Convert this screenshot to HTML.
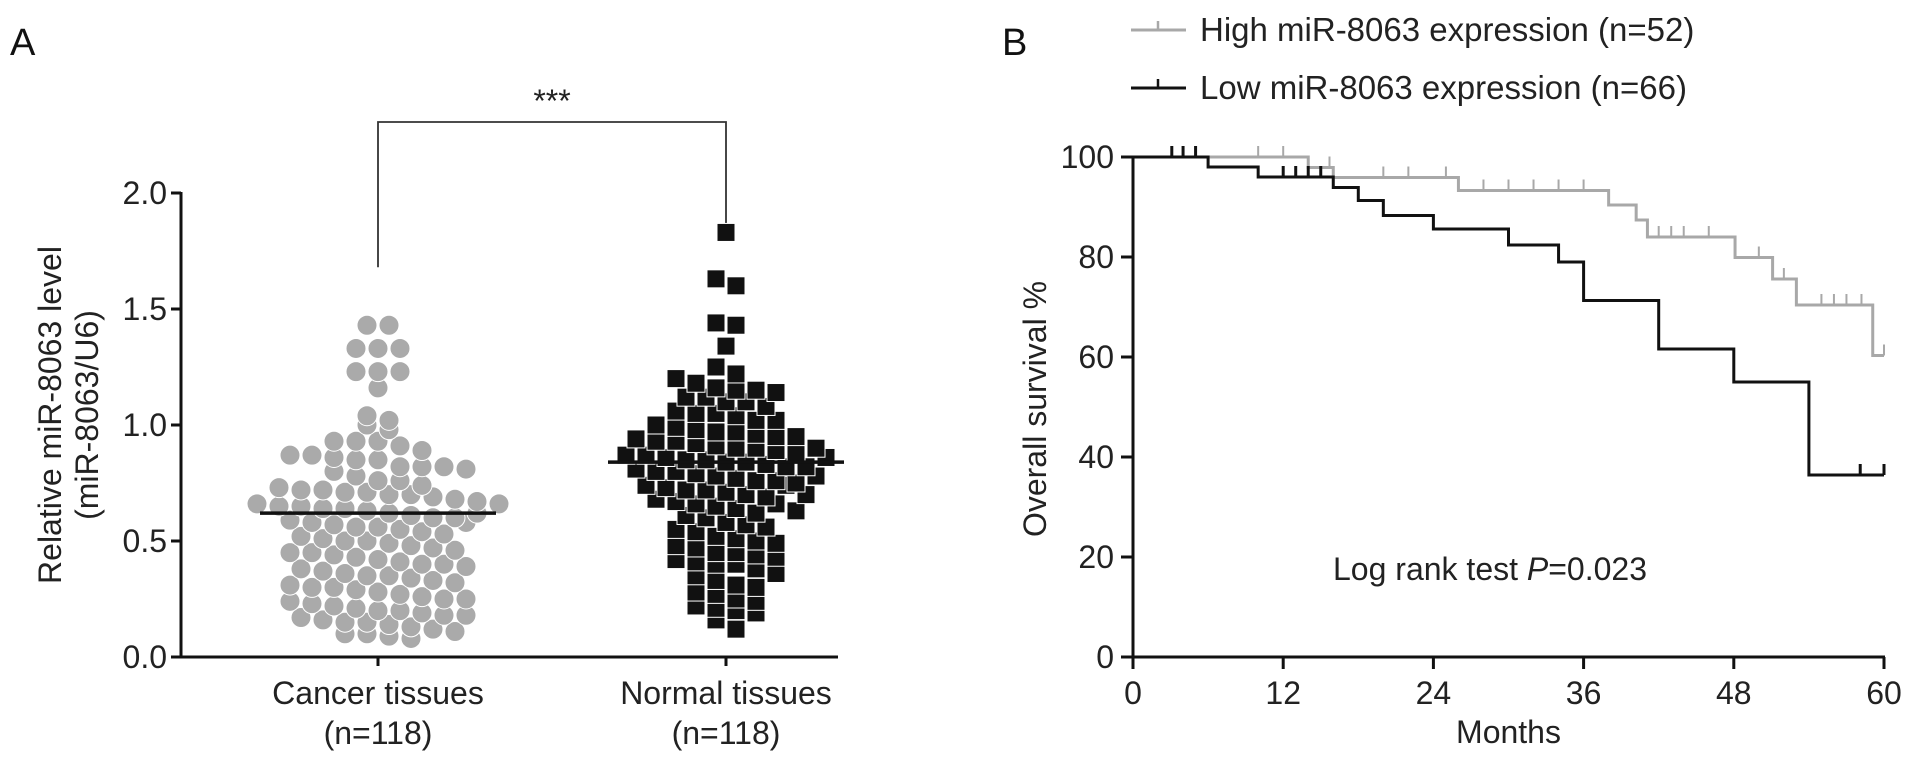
<!DOCTYPE html>
<html><head><meta charset="utf-8"><style>
html,body{margin:0;padding:0;background:#fff;}
svg{display:block;font-family:"Liberation Sans",Arial,sans-serif;}
</style></head><body>
<svg id="fig" width="1913" height="762" viewBox="0 0 1913 762" xmlns="http://www.w3.org/2000/svg">
<rect width="1913" height="762" fill="#fff"/>
<g id="panelA"></g>
<g id="panelB"></g>
</svg>
<script>
// ---- Panel A data ----
const cancerValues = [1.43,1.43,1.33,1.33,1.33,1.23,1.23,1.23,1.16,1.04,1.02,1.0,0.98,0.93,0.93,0.93,0.91,0.89,0.87,0.87,0.86,0.85,0.85,0.82,0.82,0.82,0.81,0.80,0.78,0.76,0.76,0.74,0.73,0.72,0.72,0.71,0.71,0.70,0.70,0.69,0.68,0.67,0.66,0.65,0.65,0.64,0.64,0.63,0.62,0.61,0.60,0.60,0.59,0.58,0.57,0.56,0.56,0.55,0.54,0.53,0.52,0.51,0.50,0.50,0.49,0.48,0.47,0.46,0.45,0.45,0.44,0.43,0.42,0.41,0.40,0.40,0.39,0.38,0.37,0.36,0.35,0.35,0.34,0.33,0.32,0.31,0.30,0.30,0.29,0.28,0.27,0.26,0.25,0.25,0.24,0.23,0.22,0.21,0.20,0.20,0.19,0.18,0.18,0.17,0.16,0.15,0.15,0.14,0.13,0.12,0.11,0.10,0.10,0.09,0.08,0.62,0.58,0.66];
const normalValues = [1.83,1.63,1.60,1.44,1.43,1.34,1.25,1.22,1.20,1.18,1.16,1.15,1.15,1.14,1.12,1.12,1.10,1.10,1.08,1.06,1.05,1.05,1.04,1.02,1.02,1.00,0.99,0.98,0.97,0.97,0.96,0.95,0.94,0.93,0.93,0.92,0.91,0.90,0.90,0.89,0.88,0.87,0.87,0.86,0.85,0.85,0.84,0.84,0.83,0.82,0.82,0.81,0.80,0.80,0.79,0.78,0.77,0.76,0.76,0.75,0.74,0.73,0.72,0.72,0.71,0.70,0.69,0.68,0.67,0.66,0.65,0.64,0.62,0.61,0.60,0.58,0.57,0.56,0.55,0.54,0.52,0.51,0.50,0.49,0.48,0.47,0.45,0.45,0.44,0.43,0.42,0.41,0.40,0.40,0.38,0.36,0.35,0.33,0.31,0.30,0.28,0.27,0.25,0.24,0.22,0.21,0.20,0.19,0.16,0.12,0.95,0.90,0.86,0.78,0.74,0.70,0.66,0.63];
const groupMeans = [0.62, 0.84];
const groupLabels = ["Cancer tissues", "Normal tissues"];
const groupN = ["(n=118)", "(n=118)"];
const yTicksA = [0, 0.5, 1.0, 1.5, 2.0];
const yTickLabelsA = ["0.0","0.5","1.0","1.5","2.0"];

// ---- Panel B data ----
const lowTimes = [0,6,10,16,18,20,24,30,34,36,42,48,54,60];
const lowSurv  = [100,98,96,93.9,91.3,88.3,85.6,82.4,79,71.3,61.6,55,36.4,36.4];
const lowCensor = [3.1,4,5,12,13,14,15,58.1,60];
const highTimes = [0,14,16,26,38,40.2,41.1,48.1,51.1,53,59.1,60];
const highSurv  = [100,97.9,95.9,93.3,90.4,87.4,84,79.9,75.6,70.4,60.3,60.3];
const highCensor = [10,12,15.7,20,22,25,28,30,32,34,36,42,43,44,46,50,52,55,56,57,58.2,60];
const xTicksB = [0,12,24,36,48,60];
const yTicksB = [0,20,40,60,80,100];

const NS = "http://www.w3.org/2000/svg";
function mk(parent, tag, attrs, text){
  const e = document.createElementNS(NS, tag);
  for (const k in attrs) e.setAttribute(k, attrs[k]);
  if (text !== undefined) e.textContent = text;
  parent.appendChild(e);
  return e;
}
const A = document.getElementById('panelA');
const B = document.getElementById('panelB');
const FS = 32;

// ===== Panel A =====
const ax0 = 181, ay0 = 657, ay1 = 193;
const yA = v => ay0 - (v/2.0)*(ay0-ay1);
const catX = [378, 726];

let t = mk(A,'text',{x:10,y:55,'font-size':38,fill:'#111'},'A');



let l = mk(A,'line',{x1:ax0,y1:ay1-1,x2:ax0,y2:ay0+1.5,stroke:'#111','stroke-width':3});


l = mk(A,'line',{x1:ax0-1.5,y1:ay0,x2:838,y2:ay0,stroke:'#111','stroke-width':3});



yTicksA.forEach((v,i)=>{
  const y = yA(v);
  const tk = mk(A,'line',{x1:ax0-10,y1:y,x2:ax0,y2:y,stroke:'#111','stroke-width':3});
  
  
  const tl = mk(A,'text',{x:ax0-14,y:y+11,'font-size':FS,'text-anchor':'end',fill:'#222'},yTickLabelsA[i]);
  
  
});
catX.forEach((x,i)=>{
  const tk = mk(A,'line',{x1:x,y1:ay0,x2:x,y2:ay0+9,stroke:'#111','stroke-width':3});
  
  
  const c1 = mk(A,'text',{x:x,y:704,'font-size':FS,'text-anchor':'middle',fill:'#222'},groupLabels[i]);
  
  
  const c2 = mk(A,'text',{x:x,y:744,'font-size':FS,'text-anchor':'middle',fill:'#222'},groupN[i]);
  
  
});
let yt = mk(A,'text',{transform:'translate(61,415) rotate(-90)','font-size':FS,'text-anchor':'middle',fill:'#222'},'Relative miR-8063 level');


yt = mk(A,'text',{transform:'translate(98,415) rotate(-90)','font-size':FS,'text-anchor':'middle',fill:'#222'},'(miR-8063/U6)');



// significance bracket
const br = mk(A,'path',{d:`M${catX[0]} ${yA(1.68)} V122 H${catX[1]} V${yA(1.86)}`,fill:'none',stroke:'#333','stroke-width':1.8});


const st = mk(A,'text',{x:(catX[0]+catX[1])/2,y:112,'font-size':FS,'text-anchor':'middle',fill:'#222'},'***');



function swarm(vals, cx, dx, binW){
  const bins = {};
  vals.forEach(v=>{const k=Math.round(v/binW); (bins[k]=bins[k]||[]).push(v);});
  const out=[];
  Object.keys(bins).forEach(k=>{
    const arr=bins[k]; const n=arr.length;
    arr.forEach((v,i)=>out.push({x:cx+(i-(n-1)/2)*dx, v}));
  });
  return out;
}
swarm(cancerValues, catX[0], 22, 0.07).forEach(p=>{
  const c = mk(A,'circle',{cx:p.x,cy:yA(p.v),r:10,fill:'#aaaaaa',stroke:'#fff','stroke-width':1});
  
  
});
swarm(normalValues, catX[1], 20, 0.065).forEach(p=>{
  const s = mk(A,'rect',{x:p.x-9,y:yA(p.v)-9,width:18,height:18,fill:'#111',stroke:'#fff','stroke-width':1});
  
  
});
groupMeans.forEach((m,i)=>{
  const ml = mk(A,'line',{x1:catX[i]-118,y1:yA(m),x2:catX[i]+118,y2:yA(m),stroke:'#111','stroke-width':3.5});
  
  
});

// ===== Panel B =====
const bx0 = 1133, bx1 = 1884, by0 = 657, by1 = 157;
const xB = m => bx0 + (m/60)*(bx1-bx0);
const yB = s => by0 - (s/100)*(by0-by1);

t = mk(B,'text',{x:1002,y:55,'font-size':38,fill:'#111'},'B');



l = mk(B,'line',{x1:bx0,y1:by1,x2:bx0,y2:by0+1.5,stroke:'#111','stroke-width':3});


l = mk(B,'line',{x1:bx0-12,y1:by0,x2:bx1+1,y2:by0,stroke:'#111','stroke-width':3});


yTicksB.forEach(v=>{
  const y=yB(v);
  const tk = mk(B,'line',{x1:bx0-12,y1:y,x2:bx0,y2:y,stroke:'#111','stroke-width':3});
  
  
  const tl = mk(B,'text',{x:bx0-19,y:y+11,'font-size':FS,'text-anchor':'end',fill:'#222'},String(v));
  
  
});
xTicksB.forEach(v=>{
  const x=xB(v);
  const tk = mk(B,'line',{x1:x,y1:by0,x2:x,y2:by0+12,stroke:'#111','stroke-width':3});
  
  
  const tl = mk(B,'text',{x:x,y:704,'font-size':FS,'text-anchor':'middle',fill:'#222'},String(v));
  
  
});
let xt = mk(B,'text',{x:(bx0+bx1)/2,y:743,'font-size':FS,'text-anchor':'middle',fill:'#222'},'Months');


yt = mk(B,'text',{transform:'translate(1046,409) rotate(-90)','font-size':FS,'text-anchor':'middle',fill:'#222'},'Overall survival %');



function stepPath(times, surv){
  let d = `M${xB(times[0])} ${yB(surv[0])}`;
  for(let i=1;i<times.length;i++){
    d += ` H${xB(times[i])} V${yB(surv[i])}`;
  }
  return d;
}
function survAt(times, surv, m){
  let s = surv[0];
  for(let i=0;i<times.length;i++){ if(times[i]<=m) s=surv[i]; }
  return s;
}
function drawCurve(times, surv, censor, color, name){
  const p = mk(B,'path',{d:stepPath(times,surv),fill:'none',stroke:color,'stroke-width':3});
  
  
  censor.forEach(m=>{
    const y=yB(survAt(times,surv,m-0.01));
    const c = mk(B,'line',{x1:xB(m),y1:y,x2:xB(m),y2:y-11,stroke:color,'stroke-width':color==='#111'?3:2});
    
    
  });
}
drawCurve(highTimes, highSurv, highCensor, '#a8a8a8', 'high-expression');
drawCurve(lowTimes, lowSurv, lowCensor, '#111', 'low-expression');

// legend
function legend(y, color, label, name){
  const g = mk(B,'g',{});
  
  
  mk(g,'line',{x1:1131,y1:y,x2:1186,y2:y,stroke:color,'stroke-width':3});
  mk(g,'line',{x1:1158,y1:y,x2:1158,y2:y-9,stroke:color,'stroke-width':2.5});
  mk(g,'text',{x:1200,y:y+11,'font-size':33,fill:'#222'},label);
}
legend(30, '#a8a8a8', 'High miR-8063 expression (n=52)', 'legend-entry-high');
legend(88, '#111', 'Low miR-8063 expression (n=66)', 'legend-entry-low');

const lr = mk(B,'text',{x:1333,y:580,'font-size':FS,fill:'#222'});


mk(lr,'tspan',{},'Log rank test ');
mk(lr,'tspan',{'font-style':'italic'},'P');
mk(lr,'tspan',{},'=0.023');
</script>
</body></html>
